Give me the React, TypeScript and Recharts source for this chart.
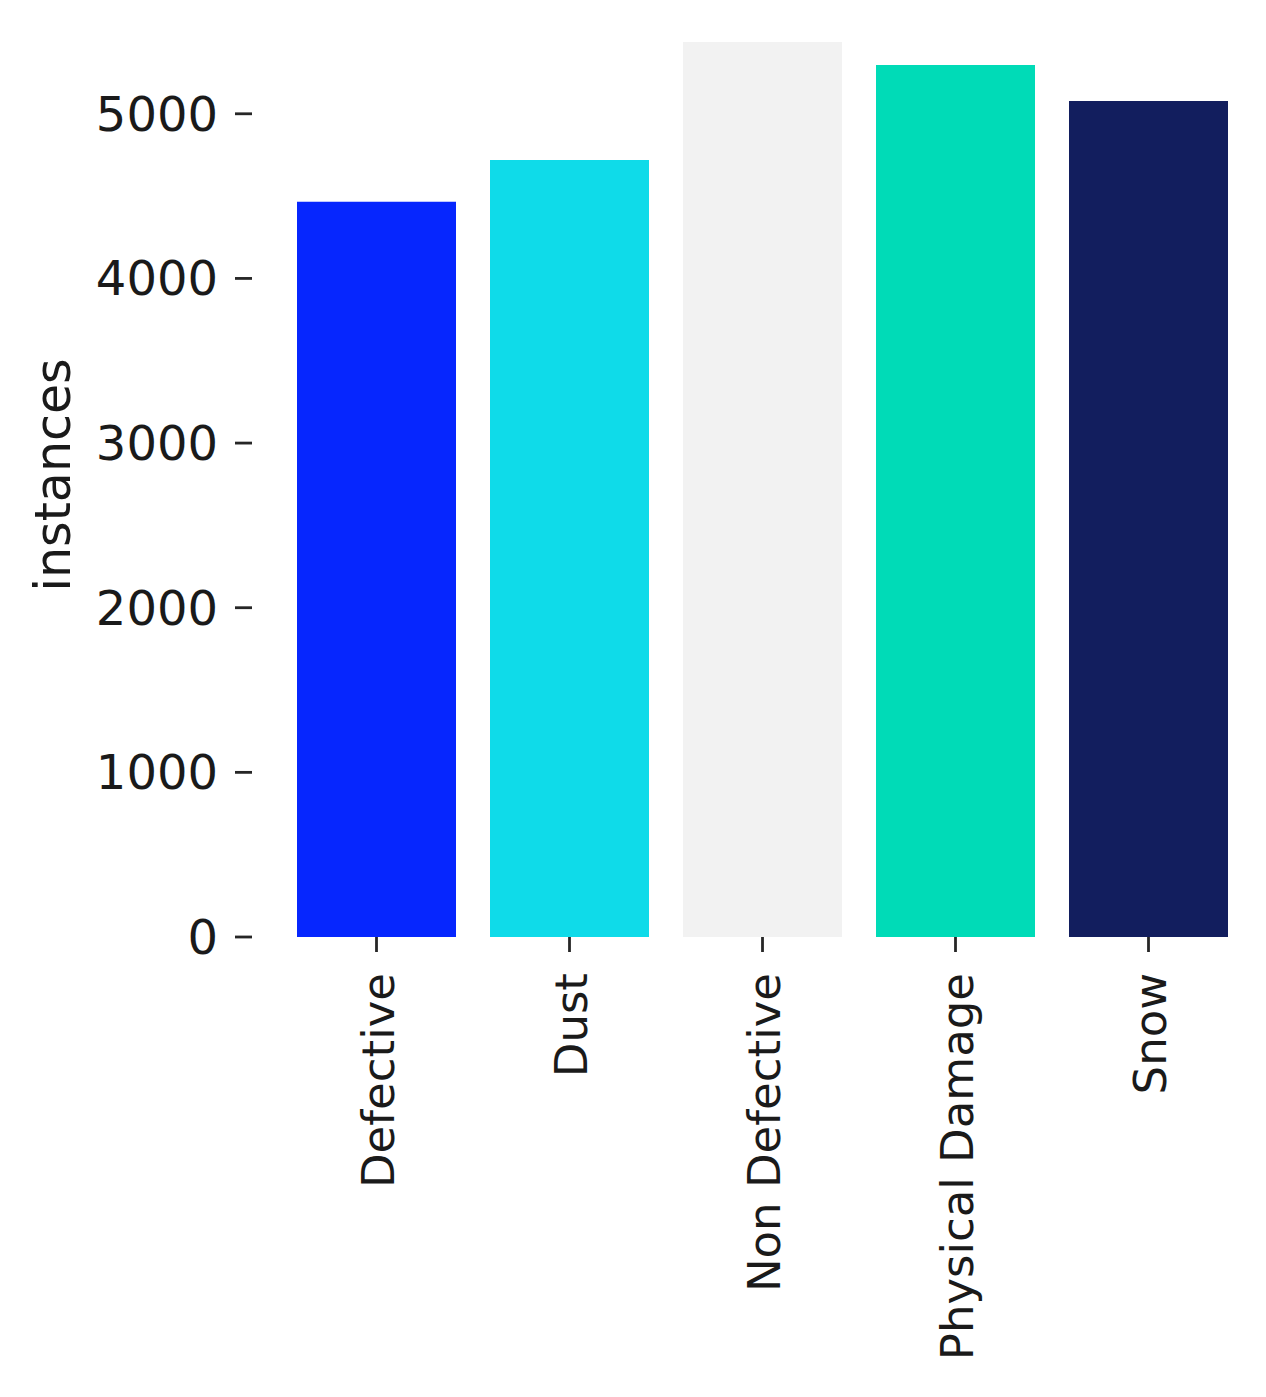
import React from 'react';
import { BarChart, Bar, XAxis, YAxis, Cell, Label } from 'recharts';

const categories = ['Defective', 'Dust', 'Non Defective', 'Physical Damage', 'Snow'];
const instances = [4466, 4719, 5436, 5296, 5078];
const barColors = ['#0626fe', '#0fdbe9', '#f2f2f2', '#00dbb7', '#121e5e'];
const yTicks = [0, 1000, 2000, 3000, 4000, 5000];

const data = categories.map((c, i) => ({ name: c, instances: instances[i] }));

const FONT = '"DejaVu Sans", sans-serif';
const TEXT = '#1a1a1a';

const XTick = (props: any) => {
  const { x, y, payload } = props;
  return (
    <text
      x={x}
      y={y}
      dy="0.38em"
      transform={`rotate(-90 ${x} ${y})`}
      textAnchor="end"
      fontSize={45}
      fontFamily={FONT}
      fill={TEXT}
    >
      {payload.value}
    </text>
  );
};

const YLabel = () => (
  <text
    x={70}
    y={475}
    transform="rotate(-90 70 475)"
    textAnchor="middle"
    fontSize={49}
    fontFamily={FONT}
    fill={TEXT}
  >
    instances
  </text>
);

export default function App() {
  return (
    <div style={{ position: 'absolute', left: 0, top: 0, width: 1266, height: 1397, background: '#fff' }}>
      <BarChart
        width={1266}
        height={1397}
        data={data}
        margin={{ top: 15, right: 0, bottom: 20, left: 0 }}
      >
        <XAxis
          dataKey="name"
          type="category"
          height={440}
          axisLine={false}
          tickLine={{ stroke: '#262626', strokeWidth: 2.8 }}
          tickSize={15}
          tickMargin={21}
          padding={{ left: 28, right: 21 }}
          interval={0}
          tick={<XTick />}
        />
        <YAxis
          type="number"
          domain={[0, 5600]}
          ticks={yTicks}
          width={252}
          axisLine={false}
          tickLine={{ stroke: '#262626', strokeWidth: 2.8 }}
          tickSize={17}
          tickMargin={17}
          tick={{ fontSize: 48, fontFamily: FONT, fill: TEXT }}
        >
          <Label content={<YLabel />} />
        </YAxis>
        <Bar dataKey="instances" barSize={159} isAnimationActive={false}>
          {data.map((d, i) => (
            <Cell key={d.name} fill={barColors[i]} />
          ))}
        </Bar>
      </BarChart>
    </div>
  );
}
